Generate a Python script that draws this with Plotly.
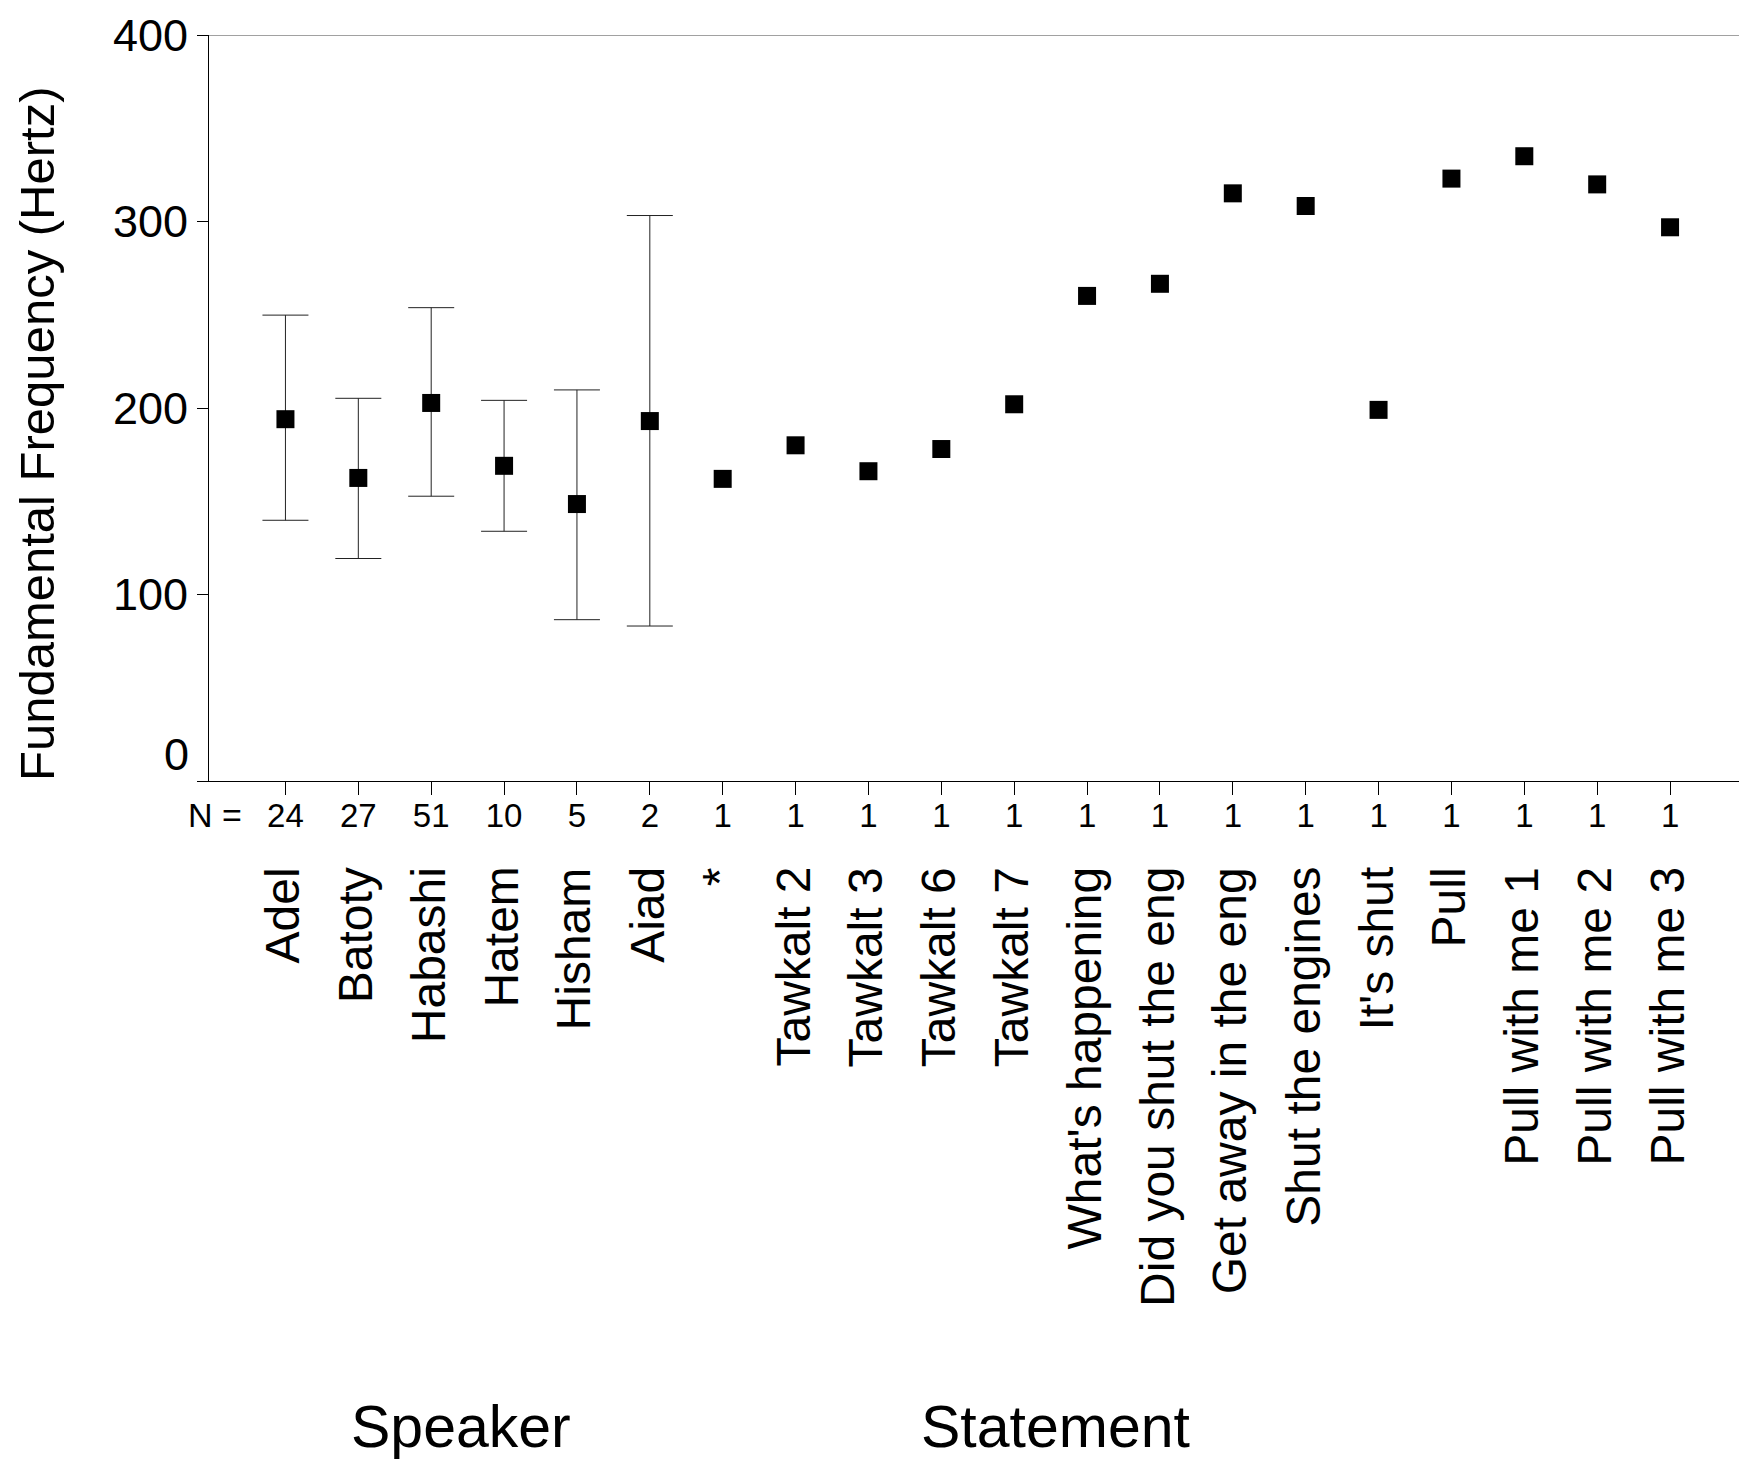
import plotly.graph_objects as go

# ---- data ----
speakers = ["Adel", "Batoty", "Habashi", "Hatem", "Hisham", "Aiad"]
speaker_mean = [194.0, 162.5, 202.7, 169.0, 148.5, 193.0]
speaker_upper = [249.8, 205.2, 253.8, 204.1, 209.7, 303.2]
speaker_lower = [139.8, 119.3, 152.7, 133.9, 86.5, 83.1]

statements = ["*", "Tawkalt 2", "Tawkalt 3", "Tawkalt 6", "Tawkalt 7",
              "What's happening", "Did you shut the eng", "Get away in the eng",
              "Shut the engines", "It's shut", "Pull", "Pull with me 1",
              "Pull with me 2", "Pull with me 3"]
statement_mean = [162.0, 180.0, 166.1, 178.0, 202.0, 260.1, 266.6, 315.1,
                  308.3, 199.0, 323.0, 335.0, 319.9, 296.9]

n_values = [24, 27, 51, 10, 5, 2, 1, 1, 1, 1, 1, 1, 1, 1, 1, 1, 1, 1, 1, 1]
y_ticks = [0, 100, 200, 300, 400]
group_labels = ["Speaker", "Statement"]

FONT = "Liberation Sans, Arial, sans-serif"

categories = speakers + statements
xs_sp = list(range(len(speakers)))
xs_st = list(range(len(speakers), len(categories)))

fig = go.Figure()

fig.add_trace(go.Scatter(
    x=xs_sp, y=speaker_mean, mode="markers",
    marker=dict(symbol="square", size=18, color="black"),
    error_y=dict(type="data", symmetric=False,
                 array=[u - m for u, m in zip(speaker_upper, speaker_mean)],
                 arrayminus=[m - l for m, l in zip(speaker_mean, speaker_lower)],
                 color="#222222", thickness=1, width=23),
    showlegend=False,
))
fig.add_trace(go.Scatter(
    x=xs_st, y=statement_mean, mode="markers",
    marker=dict(symbol="square", size=18, color="black"),
    showlegend=False,
))

annotations = []
# rotated category labels
for i, c in enumerate(categories):
    annotations.append(dict(
        x=i, xref="x", y=0, yref="paper", yanchor="top", xanchor="center",
        xshift=-3, yshift=-84, text=c, textangle=-90, showarrow=False,
        font=dict(family=FONT, size=48, color="black")))
# "N =" label
annotations.append(dict(
    x=0, xref="paper", y=0, yref="paper", xanchor="right", yanchor="middle",
    xshift=35, yshift=-34, text="N =", showarrow=False,
    font=dict(family=FONT, size=34, color="black")))
# raised "0" y tick label
annotations.append(dict(
    x=0, xref="paper", y=y_ticks[0], yref="y", xanchor="right", yanchor="middle",
    xshift=-18, yshift=27, text=str(y_ticks[0]), showarrow=False,
    font=dict(family=FONT, size=45, color="black")))
# y axis title
annotations.append(dict(
    x=0, xref="paper", y=0, yref="y", xanchor="center", yanchor="bottom",
    xshift=-172, yshift=-2, text="Fundamental Frequency (Hertz)", textangle=-90,
    showarrow=False, font=dict(family=FONT, size=49, color="black")))
# group labels
for gx, g in zip([0.165, 0.553], group_labels):
    annotations.append(dict(
        x=gx, xref="paper", y=0, yref="paper", xanchor="center", yanchor="middle",
        yshift=-646, text=g, showarrow=False,
        font=dict(family=FONT, size=59, color="black")))

fig.update_layout(
    width=1739, height=1462,
    margin=dict(l=208.5, r=0, t=35, b=681),
    paper_bgcolor="white", plot_bgcolor="white",
    font=dict(family=FONT, color="black"),
    xaxis=dict(
        range=[-1.049, 19.946],
        tickvals=list(range(len(categories))),
        ticktext=[str(v) for v in n_values],
        ticks="outside", ticklen=13, tickwidth=1, tickcolor="black",
        ticklabelstandoff=-8,
        tickfont=dict(family=FONT, size=33, color="black"),
        showgrid=False, zeroline=False,
        showline=True, linecolor="black", linewidth=1,
    ),
    yaxis=dict(
        range=[0, 400],
        tickvals=y_ticks,
        ticktext=[""] + [str(v) for v in y_ticks[1:]],
        ticks="outside", ticklen=11, tickwidth=1, tickcolor="black",
        tickfont=dict(family=FONT, size=45, color="black"),
        showgrid=False, zeroline=False,
        showline=True, linecolor="black", linewidth=1,
    ),
    shapes=[dict(type="line", xref="paper", yref="y", x0=0, x1=1,
                 y0=y_ticks[-1], y1=y_ticks[-1],
                 line=dict(color="#444444", width=1))],
    annotations=annotations,
)

fig.write_html("out.html")
